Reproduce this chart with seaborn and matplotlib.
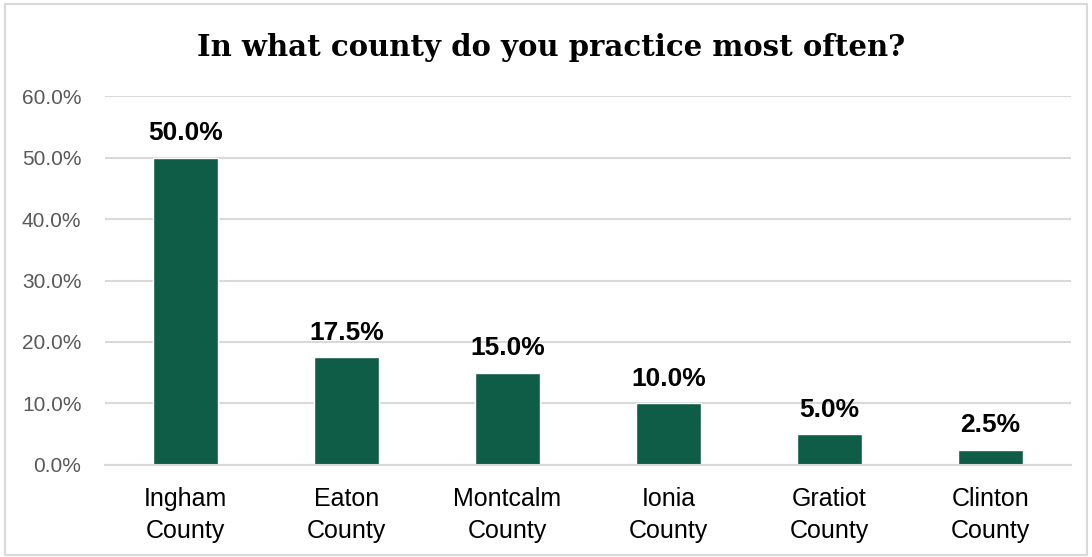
import matplotlib
matplotlib.use('Agg')
import matplotlib.pyplot as plt
import seaborn as sns
import pandas as pd
from matplotlib.patches import Rectangle
from matplotlib.ticker import PercentFormatter

# 数据
counties = ['Ingham\nCounty', 'Eaton\nCounty', 'Montcalm\nCounty',
            'Ionia\nCounty', 'Gratiot\nCounty', 'Clinton\nCounty']
shares = [0.500, 0.175, 0.150, 0.100, 0.050, 0.025]
title = 'In what county do you practice most often?'

df = pd.DataFrame({'county': counties, 'share': shares})

sns.set_theme(style='white')
plt.rcParams['font.family'] = ['Liberation Sans', 'DejaVu Sans']

fig = plt.figure(figsize=(10.92, 5.57), dpi=100)
ax = fig.add_axes([0.0962, 0.1652, 0.8846, 0.6624])

sns.barplot(data=df, x='county', y='share', color='#0f5c47',
            saturation=1, width=0.4, ax=ax)

ax.set_ylim(0, 0.6)
ax.set_xlim(-0.5, len(counties) - 0.5)
ax.set_yticks([0, 0.1, 0.2, 0.3, 0.4, 0.5, 0.6])
ax.yaxis.set_major_formatter(PercentFormatter(1.0, decimals=1))
ax.grid(axis='y', color='#d9d9d9', linewidth=1.5)
ax.set_axisbelow(True)
for s in ['top', 'right', 'left']:
    ax.spines[s].set_visible(False)
ax.spines['bottom'].set_color('#d9d9d9')
ax.spines['bottom'].set_linewidth(1.5)
ax.set_xlabel('')
ax.set_ylabel('')
ax.tick_params(axis='y', labelsize=15, labelcolor='#595959', length=0, pad=17)
ax.tick_params(axis='x', labelsize=18, labelcolor='black', length=0, pad=16)
for lbl in ax.get_xticklabels():
    lbl.set_linespacing(1.4)

ax.bar_label(ax.containers[0], fmt=lambda v: f'{v:.1%}', padding=9,
             fontsize=19, fontweight='bold', color='black')

fig.text(0.505, 0.915, title, ha='center', va='center', fontsize=21,
         fontweight='bold', color='black',
         family=['DejaVu Serif', 'Liberation Serif'])

fig.patches.append(Rectangle((0.005, 0.004), 0.99, 0.988, transform=fig.transFigure,
                             fill=False, edgecolor='#d9d9d9', linewidth=1.5))

fig.savefig('out.png', dpi=100)
